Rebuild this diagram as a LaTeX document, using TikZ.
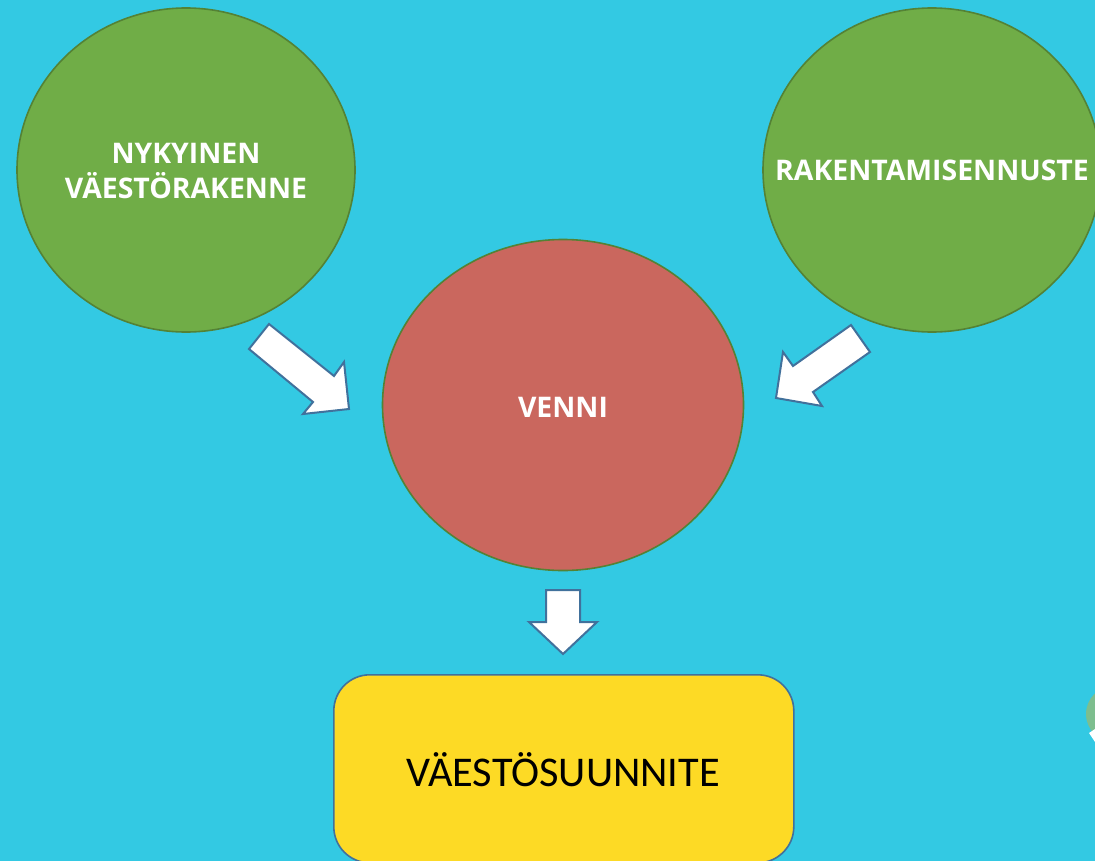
\documentclass[tikz,border=0pt]{standalone}
\usepackage{fontspec}
\setmainfont{Carlito}
\setsansfont{Open Sans}
\usetikzlibrary{shapes.geometric}
\definecolor{bg}{HTML}{33C9E3}
\definecolor{grn}{HTML}{70AD47}
\definecolor{grnb}{HTML}{548235}
\definecolor{redc}{HTML}{CA675E}
\definecolor{yel}{HTML}{FDDA25}
\definecolor{blu}{HTML}{41719C}
\definecolor{pale}{HTML}{7DBE8E}
\tikzset{
  bubble/.style={ellipse, draw=grnb, line width=1.6bp, inner sep=0pt},
  greenbub/.style={bubble, fill=grn},
  redbub/.style={bubble, fill=redc},
  bubtext/.style={text=white, font=\sffamily\bfseries\fontsize{28.5}{35}\selectfont, align=center, inner sep=0pt},
  blockarrow/.style={fill=white, draw=blu, line width=2bp, line join=miter},
  resultbox/.style={rectangle, rounded corners=36bp, fill=yel, draw=blu, line width=1.6bp, inner sep=0pt}
}
\begin{document}
\begin{tikzpicture}[x=1bp,y=-1bp]
\useasboundingbox (0,0) rectangle (1095,861);
\clip (0,0) rectangle (1095,861);
\fill[bg] (0,0) rectangle (1095,861);
% partial element at right edge
\fill[pale] (1114,714) circle[radius=28];
\fill[white] (1089,733) -- (1095,729) -- (1095,742) -- cycle;
% bubbles
\node[greenbub, minimum width=338bp, minimum height=324bp] (left) at (186,170) {};
\node[bubtext] (lefttext) at (186,171) {NYKYINEN\\VÄESTÖRAKENNE};
\node[greenbub, minimum width=338bp, minimum height=324bp] (right) at (932,170) {};
\node[bubtext, anchor=west] (righttext) at (775,170) {RAKENTAMISENNUSTE};
\node[redbub, minimum width=361bp, minimum height=331bp] (venni) at (563,405) {};
\node[bubtext] (vennitext) at (563,407) {VENNI};
% result box
\node[resultbox, minimum width=460bp, minimum height=188bp, anchor=north west] (result) at (333,674) {};
\node[font=\rmfamily\fontsize{42.5}{50}\selectfont, text=black, inner sep=0pt] (resulttext) at (563,770) {VÄESTÖSUUNNITE};
% block arrows
\draw[blockarrow] (269,324) -- (334,376) -- (344,362) -- (349,409) -- (303,414) -- (313,402) -- (249,349) -- cycle;
\draw[blockarrow] (851,325) -- (870,352) -- (813,392) -- (822,406) -- (776,398) -- (783,352) -- (793,366) -- cycle;
\draw[blockarrow] (546,590) -- (580,590) -- (580,622) -- (597,622) -- (563,654) -- (529,622) -- (546,622) -- cycle;
\end{tikzpicture}
\end{document}
